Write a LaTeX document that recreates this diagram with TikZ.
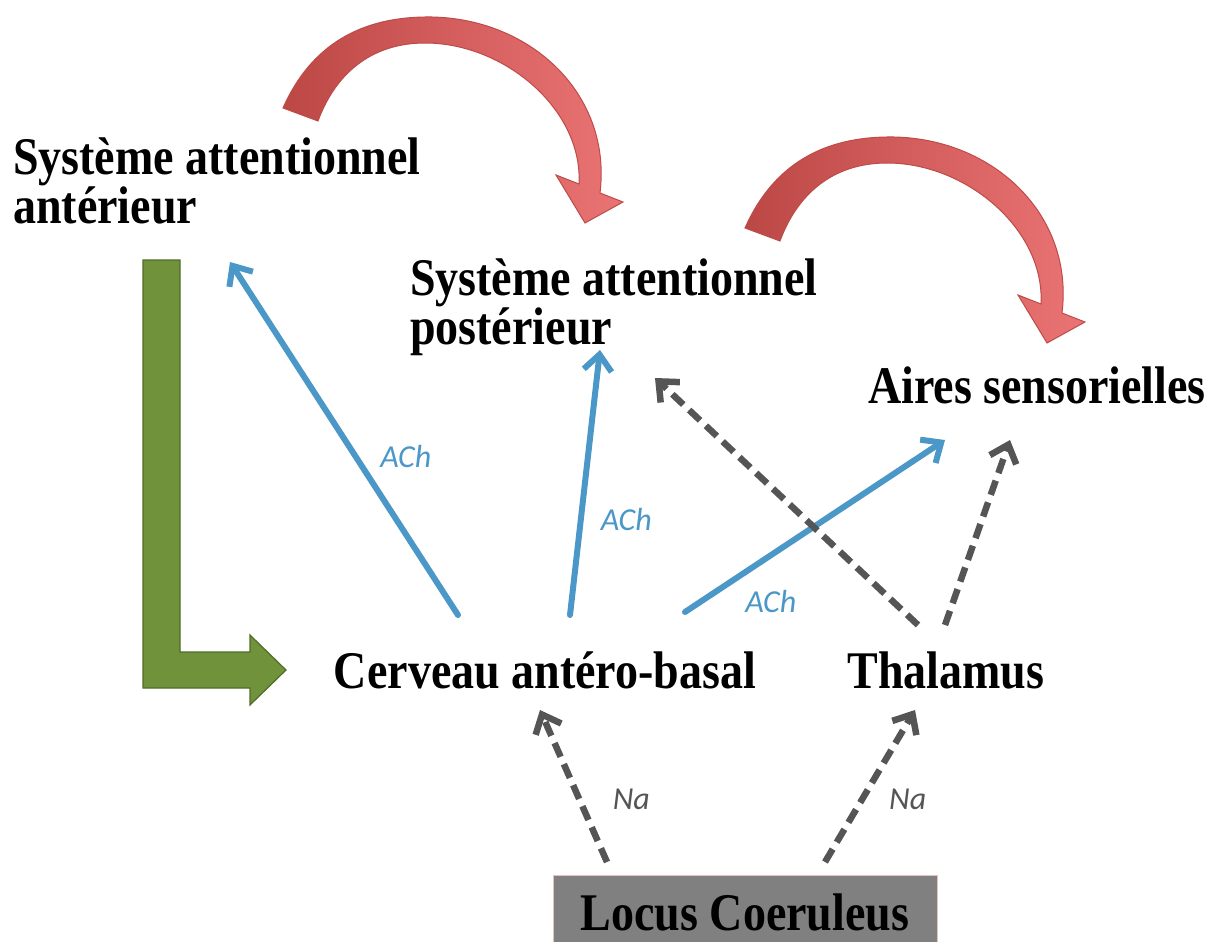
\documentclass[tikz,border=0pt]{standalone}
\usepackage{graphicx}
\usepackage{fontspec}
\setmainfont{Liberation Serif}
\newfontfamily\labelfont{Carlito}
\usetikzlibrary{arrows.meta, calc}

\definecolor{achblue}{RGB}{75,152,200}
\definecolor{nagrey}{RGB}{85,85,85}
\definecolor{lcgrey}{RGB}{128,128,128}
\definecolor{leafgreen}{RGB}{112,146,58}
\definecolor{leafdark}{RGB}{80,108,40}
\definecolor{reddark}{RGB}{188,72,70}
\definecolor{redlight}{RGB}{234,116,116}
\definecolor{redline}{RGB}{190,75,72}

\newcommand{\areatext}[1]{\scalebox{1}[1.15]{#1}}

\begin{document}
\begin{tikzpicture}[x = 1pt, y = -1pt,
	area/.style = {font = \fontsize{46}{37}\selectfont\bfseries, inner sep = 0pt},
	ach/.style = {draw = achblue, line width = 6pt, line cap = round, -{Straight Barb[length = 16pt, width = 28pt]}},
	na/.style = {draw = nagrey, line width = 6.5pt, dash pattern = on 15pt off 8pt, -{Straight Barb[length = 16pt, width = 28pt]}},
	achlabel/.style = {font = \labelfont\itshape\fontsize{32}{38}\selectfont, text = achblue, inner sep = 0pt},
	nalabel/.style = {font = \labelfont\itshape\fontsize{32}{38}\selectfont, text = nagrey, inner sep = 0pt},
	redarrow/.style = {draw = redline, line width = 1pt, left color = reddark, right color = redlight}]

	\useasboundingbox (0, 0) rectangle (1226, 942);

	% The areas

	\node[area, anchor = west] (ant) at (13, 187) {\areatext{\begin{tabular}{@{}l@{}}Système attentionnel\\antérieur\end{tabular}}};
	\node[area, anchor = west] (post) at (410, 308) {\areatext{\begin{tabular}{@{}l@{}}Système attentionnel\\postérieur\end{tabular}}};
	\node[area] (aires) at (1037, 385) {\areatext{Aires sensorielles}};
	\node[area] (cerveau) at (545, 670) {\areatext{Cerveau antéro-basal}};
	\node[area] (thalamus) at (946, 670) {\areatext{Thalamus}};
	\node[area, fill = lcgrey, draw = redline!35, line width = 0.8pt, minimum width = 384pt, minimum height = 74pt] (locus) at (745, 912) {\areatext{Locus Coeruleus}};

	% Red curved arrows

	\foreach \dx/\dy in {0/0, 462/120}
		\draw[redarrow, shift = {(\dx, \dy)}] (283, 108) .. controls (314, 38) and (370, 16) .. (432, 17)
			.. controls (532, 19) and (612, 95) .. (600, 193) -- (623, 202) -- (585, 223) -- (556, 175) -- (579, 184)
			.. controls (583, 110) and (505, 43) .. (425, 43) .. controls (370, 43) and (335, 75) .. (318, 121) -- cycle;

	% Green bent arrow

	\filldraw[fill = leafgreen, draw = leafdark, line width = 1.2pt] (143, 260) -- (180, 260) -- (180, 652) -- (250, 652)
		-- (250, 635) -- (286, 670) -- (250, 705) -- (250, 688) -- (143, 688) -- cycle;

	% ACh

	\draw[ach] ($(cerveau.center) + (-87, -55)$) -- node[achlabel, pos = 0.45, anchor = west, xshift = 22pt] {ACh} ($(ant.west) + (217, 75)$);
	\draw[ach] ($(cerveau.center) + (25, -55)$) -- node[achlabel, pos = 0.36, anchor = west, xshift = 17pt] {ACh} ($(post.west) + (190, 42)$);
	\draw[ach] ($(cerveau.center) + (140, -58)$) -- node[achlabel, pos = 0.33, anchor = north, yshift = -32pt] {ACh} ($(aires.center) + (-92, 55)$);

	% Na

	\draw[na] ($(thalamus.center) + (-28, -45)$) -- ($(post.west) + (245, 70)$);
	\draw[na] ($(thalamus.center) + (-1, -45)$) -- ($(aires.center) + (-27, 55)$);
	\draw[na] ($(locus.center) + (-138, -50)$) -- node[nalabel, pos = 0.41, anchor = west, xshift = 30pt] {Na} ($(cerveau.center) + (-5, 40)$);
	\draw[na] ($(locus.center) + (80, -50)$) -- node[nalabel, pos = 0.41, anchor = west, xshift = 24pt] {Na} ($(thalamus.center) + (-31, 40)$);

\end{tikzpicture}
\end{document}
